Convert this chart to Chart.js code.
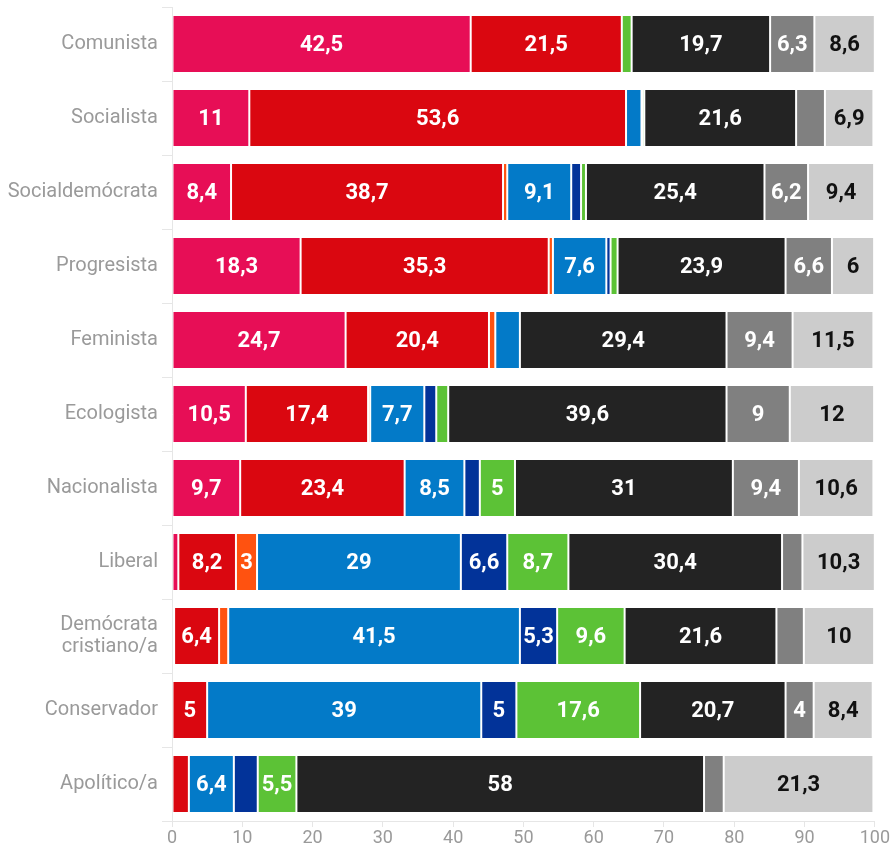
<!DOCTYPE html>
<html>
<head>
<meta charset="utf-8">
<script src="https://cdn.jsdelivr.net/npm/chart.js@4.4.1/dist/chart.umd.min.js"></script>
<style>
	body { margin: 0; background: #fff; }
	#wrap { width: 891px; height: 850px; position: relative; }
</style>
</head>
<body>
<div id="wrap"><canvas id="ideologyChart" width="891" height="850"></canvas></div>
<script>
"use strict";

// categories (y axis)
const categories = ["Comunista", "Socialista", "Socialdemócrata", "Progresista", "Feminista", "Ecologista",
	"Nacionalista", "Liberal", ["Demócrata", "cristiano/a"], "Conservador", "Apolítico/a"];

// one array per stacked series, same order as categories
const pinkVals   = [42.5, 11,   8.4, 18.3, 24.7, 10.5, 9.7,  0.9, 0.3,  0,    0];
const redVals    = [21.5, 53.6, 38.7, 35.3, 20.4, 17.4, 23.4, 8.2, 6.4,  5,    2.4];
const orangeVals = [0,    0,    0.6,  0.6,  0.9,  0.3,  0,    3,   1.3,  0,    0];
const blueVals   = [0,    2.2,  9.1,  7.6,  3.5,  7.7,  8.5,  29,  41.5, 39,   6.4];
const navyVals   = [0,    0.1,  1.4,  0.6,  0,    1.7,  2.2,  6.6, 5.3,  5,    3.4];
const greenVals  = [1.4,  0.3,  0.7,  1.0,  0,    1.7,  5,    8.7, 9.6,  17.6, 5.5];
const blackVals  = [19.7, 21.6, 25.4, 23.9, 29.4, 39.6, 31,   30.4, 21.6, 20.7, 58];
const greyVals   = [6.3,  4.1,  6.2,  6.6,  9.4,  9,    9.4,  2.9, 3.9,  4,    2.8];
const lightVals  = [8.6,  6.9,  9.4,  6,    11.5, 12,   10.6, 10.3, 10,  8.4,  21.3];

const xTicks = [0, 10, 20, 30, 40, 50, 60, 70, 80, 90, 100];

const seriesList = [
	{ data: pinkVals,   color: "#e70e56" },
	{ data: redVals,    color: "#da0710" },
	{ data: orangeVals, color: "#ff5210" },
	{ data: blueVals,   color: "#037ac8" },
	{ data: navyVals,   color: "#023399" },
	{ data: greenVals,  color: "#5cc236" },
	{ data: blackVals,  color: "#232323" },
	{ data: greyVals,   color: "#808080" },
	{ data: lightVals,  color: "#cccccc" }
];

const labelFont = "bold 22px Roboto, sans-serif";

// draws the value inside each segment when it fits
const segmentLabels = {
	id: "segmentLabels",
	afterDatasetsDraw(chart) {
		const ctx = chart.ctx;
		ctx.save();
		ctx.font = labelFont;
		ctx.textAlign = "center";
		ctx.textBaseline = "middle";
		chart.data.datasets.forEach(function(ds, di) {
			const meta = chart.getDatasetMeta(di);
			meta.data.forEach(function(bar, i) {
				const v = ds.data[i];
				if (!v) return;
				const txt = String(v).replace(".", ",");
				const w = Math.abs(bar.x - bar.base);
				if (ctx.measureText(txt).width + 4 > w) return;
				ctx.fillStyle = di === 8 ? "#111" : "#fff";
				ctx.fillText(txt, (bar.x + bar.base) / 2, bar.y + 1);
			});
		});
		ctx.restore();
	}
};

let ctx = document.getElementById("ideologyChart");
let ideologyChart = new Chart(ctx, {
	type: "bar",
	data: {
		labels: categories,
		datasets: seriesList.map(function(s) {
			return {
				data: s.data,
				backgroundColor: s.color,
				borderColor: "rgba(255,255,255,0.35)",
				borderWidth: 1,
				borderSkipped: false,
				barPercentage: 0.785,
				categoryPercentage: 1
			};
		})
	},
	options: {
		indexAxis: "y",
		responsive: false,
		animation: false,
		devicePixelRatio: 1,
		layout: { padding: { top: 7, right: 14, left: 0, bottom: 0 } },
		plugins: {
			legend: { display: false },
			tooltip: { enabled: false }
		},
		scales: {
			x: {
				stacked: true,
				min: 0,
				max: 100,
				afterBuildTicks: function(scale) {
					scale.ticks = xTicks.map(function(v) { return { value: v }; });
				},
				afterFit: function(scale) { scale.height = 29; },
				grid: { drawOnChartArea: false, color: "#e6e6e6", tickLength: 6 },
				border: { color: "#e6e6e6" },
				ticks: {
					color: "#9a9a9a",
					padding: 1,
					maxRotation: 0,
					font: { family: "Roboto, sans-serif", size: 18 }
				}
			},
			y: {
				stacked: true,
				afterFit: function(scale) {
					scale.width = 172;
					scale.paddingTop = 0;
					scale.paddingBottom = 0;
				},
				grid: { drawOnChartArea: false, color: "#e6e6e6", tickLength: 10 },
				border: { color: "#e6e6e6" },
				ticks: {
					color: "#9a9a9a",
					padding: 4,
					autoSkip: false,
					font: { family: "Roboto, sans-serif", size: 20, lineHeight: 1.1 }
				}
			}
		}
	},
	plugins: [segmentLabels]
});
</script>
</body>
</html>
